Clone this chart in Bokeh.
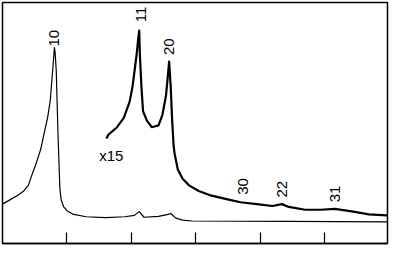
from bokeh.plotting import figure
from bokeh.models import FixedTicker, Range1d, ColumnDataSource, CustomLabelingPolicy
from bokeh.embed import file_html
from bokeh.resources import INLINE
from bokeh.core.properties import value
import math

# main (unscaled) scattering curve
main_q = [0.0, 0.101, 0.251, 0.330, 0.401, 0.446, 0.521, 0.596, 0.651, 0.700, 0.741, 0.775,
          0.798, 0.806, 0.817, 0.835, 0.861, 0.891, 0.910, 0.951, 1.0, 1.105, 1.30, 1.599,
          1.899, 2.049, 2.124, 2.199, 2.423, 2.573, 2.613, 2.693, 2.798, 2.948, 4.446, 5.975]
main_i = [42, 46, 52, 56, 62, 71, 85, 101, 119, 134, 152, 181,
          201, 209, 204, 184, 119, 59, 47, 39, 35, 31, 28.5, 27.5,
          28.5, 30, 34, 28, 29, 31, 32, 27, 25, 24, 23.5, 23]

# x15 magnified curve
mag_q = [1.614, 1.644, 1.779, 1.884, 1.974, 2.019, 2.083, 2.109, 2.124, 2.134, 2.158,
         2.183, 2.243, 2.318, 2.423, 2.483, 2.538, 2.562, 2.588, 2.613, 2.633, 2.658,
         2.673, 2.723, 2.798, 2.898, 3.048, 3.247, 3.497, 3.697, 3.951, 4.191, 4.341,
         4.446, 4.70, 4.94, 5.165, 5.449, 5.689, 5.975]
mag_i = [112, 116, 124, 134, 151, 167, 201, 219, 227, 201, 167,
         141, 131, 124, 126, 137, 157, 174, 194, 167, 134, 104,
         96, 79, 69, 62, 56, 51, 47, 44, 42, 40, 42,
         39, 36, 36, 37, 34, 31, 30]

# peak index labels
peak_labels = ["10", "11", "20", "30", "22", "31"]
peak_q = [0.805, 2.154, 2.588, 3.742, 4.341, 5.165]
peak_y = [210, 236, 201, 52, 49, 44]

tick_positions = [1, 2, 3, 4, 5]

p = figure(width=389, height=247, output_backend="svg", toolbar_location=None,
           x_range=Range1d(0, 5.98), y_range=Range1d(0, 257),
           min_border_left=2, min_border_right=2, min_border_top=2, min_border_bottom=0)
p.background_fill_color = "white"
p.border_fill_color = "white"
p.outline_line_color = "black"
p.outline_line_width = 1.5
p.grid.visible = False
p.yaxis.visible = False

ax = p.xaxis[0]
ax.ticker = FixedTicker(ticks=tick_positions)
ax.major_tick_in = 11
ax.major_tick_out = 0
ax.minor_tick_in = 0
ax.minor_tick_out = 0
ax.axis_line_color = "black"
ax.axis_line_width = 1.5
ax.major_tick_line_color = "black"
ax.major_tick_line_width = 1.2
ax.major_label_standoff = 0
ax.major_label_text_font_size = "1px"
ax.major_label_policy = CustomLabelingPolicy(code="""
for (const i of indices)
    indices.unset(i)
return indices
""")

p.line(main_q, main_i, line_color="black", line_width=1.2, line_join="round")
p.line(mag_q, mag_i, line_color="black", line_width=2.2, line_join="round")

src = ColumnDataSource(dict(x=peak_q, y=peak_y, t=peak_labels))
p.text(x="x", y="y", text="t", source=src, angle=math.pi / 2,
       text_align="left", text_baseline="middle",
       text_font=value("Liberation Sans"), text_font_size="15px", text_color="black")

p.text(x=[1.689], y=[94], text=["x15"], text_align="center", text_baseline="middle",
       text_font=value("Liberation Sans"), text_font_size="15px", text_color="black")

open("out.html", "w").write(file_html(p, INLINE))
